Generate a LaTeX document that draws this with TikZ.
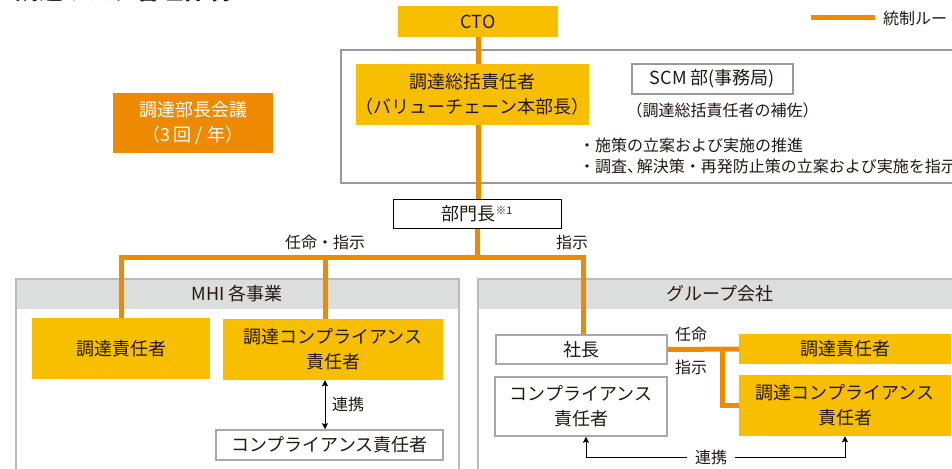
\documentclass[tikz,border=0pt]{standalone}
\usepackage{fontspec}
\setmainfont{Noto Sans CJK JP}
\usetikzlibrary{arrows.meta}
\definecolor{ylw}{HTML}{F8BE00}
\definecolor{org}{HTML}{EE8A00}
\definecolor{txt}{HTML}{231815}
\definecolor{pnlb}{HTML}{BBBBBB}
\definecolor{pnlh}{HTML}{DCDDDD}
\definecolor{bbox}{HTML}{9A9A9A}
\definecolor{wbd}{HTML}{A8A8A8}
\pgfdeclarelayer{panel}
\pgfdeclarelayer{wires}
\pgfsetlayers{panel,wires,main}
\begin{document}
\begin{tikzpicture}[x=1pt,y=-1pt,
  every node/.style={text=txt, inner sep=0pt},
  big/.style={font=\fontsize{18}{25}\selectfont, align=center},
  sml/.style={font=\fontsize{16}{20}\selectfont},
  ybox/.style={big, fill=ylw},
  obox/.style={big, fill=org, text=white},
  wbox/.style={big, fill=white, draw=wbd, line width=1.5pt},
  kbox/.style={big, fill=white, draw=black, line width=1pt},
  ctrl/.style={draw=org, line width=5pt},
  link/.style={draw=black, line width=1pt},
  tip/.style={-{Stealth[length=6pt,width=6pt,inset=1pt]}},
  dtip/.style={{Stealth[length=6pt,width=6pt,inset=1pt]}-{Stealth[length=6pt,width=6pt,inset=1pt]}},
  panelframe/.style={draw=pnlb, line width=2pt},
]
\useasboundingbox (0,0) rectangle (952,468);

% title (cut off at the top edge, as in the reference)
\node[anchor=base west, font=\fontsize{24}{24}\selectfont\bfseries] (title) at (15,0) {調達リスク管理体制};

% legend
\coordinate (legA) at (811,18);
\coordinate (legB) at (875,18);
\node[anchor=west, font=\fontsize{16}{20}\selectfont] (legtext) at (883,18) {統制ルート};

% top boxes
\node[ybox, minimum width=160pt, minimum height=31pt] (cto) at (478,21.5) {CTO};
\node[ybox, minimum width=233pt, minimum height=61pt] (sokatsu) at (472.5,94.5) {調達総括責任者\\（バリューチェーン本部長）};
\node[big, fill=white, draw=bbox, line width=1.5pt, minimum width=161pt, minimum height=30pt] (scm) at (712.5,79) {SCM 部(事務局)};
\node[sml] (hosa) at (722.5,110) {（調達総括責任者の補佐）};
\node[sml, anchor=west] (b1) at (579,145) {・施策の立案および実施の推進};
\node[sml, anchor=west] (b2) at (579,166) {・調査、\kern-0.4em解決策・再発防止策の立案および実施を指示};

\node[obox, minimum width=160pt, minimum height=60pt] (kaigi) at (193,123) {調達部長会議\\（3\,回 / 年）};

\node[kbox, minimum width=168pt, minimum height=29pt] (bumon) at (477,213.5) {部門長\raisebox{0.6ex}{\fontsize{10.5}{10.5}\selectfont ※1}};

\node[sml] (lblA) at (325,242) {任命・指示};
\node[sml] (lblB) at (572,242) {指示};

% MHI panel content
\node[big] (mhititle) at (237,294) {MHI 各事業};
\node[ybox, minimum width=178pt, minimum height=61pt] (mbuy) at (121,348.5) {調達責任者};
\node[ybox, minimum width=220pt, minimum height=61pt] (mcomp) at (333,349.5) {調達コンプライアンス\\責任者};
\node[wbox, minimum width=227pt, minimum height=30pt] (mcr) at (329.5,445) {コンプライアンス責任者};
\node[sml] (lblC) at (348,404) {連携};

% group panel content
\node[big] (grptitle) at (720,294) {グループ会社};
\node[wbox, minimum width=171pt, minimum height=29pt] (shacho) at (581.5,349.5) {社長};
\node[wbox, minimum width=172pt, minimum height=59pt] (gcr) at (581,406.5) {コンプライアンス\\責任者};
\node[ybox, minimum width=212pt, minimum height=30pt] (gbuy) at (845,349) {調達責任者};
\node[ybox, minimum width=212pt, minimum height=61pt] (gcomp) at (845,405.5) {調達コンプライアンス\\責任者};
\node[sml] (lblD) at (691,334) {任命};
\node[sml] (lblE) at (691,367) {指示};
\node[sml, fill=white, inner xsep=8pt, inner ysep=2pt] (lblF) at (711,457) {連携};

% panels
\begin{pgfonlayer}{panel}
  \draw[draw=bbox, line width=2.5pt] (341,50) rectangle (965,183);
  \fill[pnlh] (16,279) rectangle (459,309);
  \draw[panelframe] (16,279) rectangle (459,480);
  \fill[pnlh] (478,279) rectangle (965,309);
  \draw[panelframe] (478,279) rectangle (965,480);
\end{pgfonlayer}

% control lines
\begin{pgfonlayer}{wires}
  \draw[ctrl] (legA) -- (legB);
  \draw[ctrl] (cto.south) -- (cto.south |- bumon.north);
  \coordinate (jn) at (477,257);
  \draw[ctrl] (bumon.south) -- (jn);
  \draw[ctrl] (mbuy.north) |- (jn);
  \draw[ctrl] ([xshift=-8pt]mcomp.north) -- ([xshift=-8pt]mcomp.north |- jn);
  \draw[ctrl] (jn) -| ([xshift=1.5pt]shacho.north);
  \draw[ctrl] (shacho.east) -- (gbuy.west);
  \coordinate (gj) at (722,349);
  \draw[ctrl] (gj) |- (gcomp.west);
\end{pgfonlayer}

% cooperation links
\draw[link, dtip] ([xshift=-8pt]mcomp.south) -- ([xshift=-8pt]mcomp.south |- mcr.north);
\draw[link, tip] (lblF.west) -| ([xshift=5pt]gcr.south);
\draw[link, tip] (lblF.east) -| (gcomp.south);
\end{tikzpicture}
\end{document}
